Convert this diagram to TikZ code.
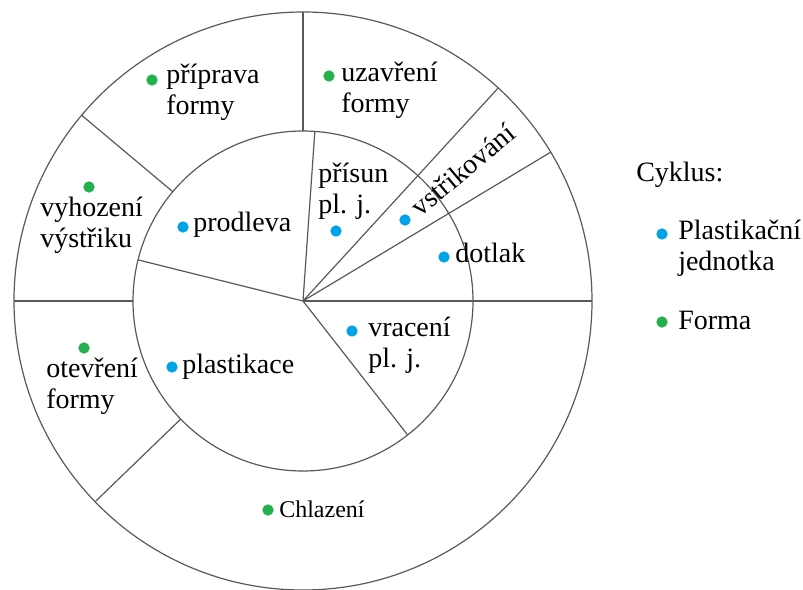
\documentclass[tikz,border=0pt]{standalone}
\usepackage{fontspec}
\setmainfont{LiberationSerif}[Extension=.ttf, UprightFont=*-Regular]
\usepackage{tikz}
\definecolor{puBlue}{RGB}{0,162,232}
\definecolor{formGreen}{RGB}{34,177,76}
\usetikzlibrary{positioning}

\begin{document}
\begin{tikzpicture}[x=0.75pt, y=0.75pt,
  sector/.style={draw=black!65, line width=0.9pt},
  lbl/.style={anchor=west, align=left, inner sep=0pt, font=\fontsize{21}{23.5}\selectfont},
  pudot/.style={circle, fill=puBlue, inner sep=0pt, minimum size=8.5pt},
  formdot/.style={circle, fill=formGreen, inner sep=0pt, minimum size=8.5pt}
]
  \useasboundingbox (-303,-288) rectangle (500,301);

  % rings
  \draw[sector] (0,0) circle (289);
  \draw[sector] (0,0) circle (170);
  % outer ring only
  \foreach \a in {90,140,180,224}
    \draw[sector] (\a:170) -- (\a:289);
  % inner ring only
  \foreach \a in {86,166,-52}
    \draw[sector] (0,0) -- (\a:170);
  % both rings
  \foreach \a in {0,31,47.5}
    \draw[sector] (0,0) -- (\a:289);

  % mold (outer ring)
  \node[formdot] (dprip) at (-151,221) {};
  \node[lbl] (prip) at (-137,209) {příprava\\formy};
  \node[formdot] (duzav) at (26,225) {};
  \node[lbl] (uzav) at (38,211) {uzavření\\formy};
  \node[formdot] (dvyh) at (-214,114) {};
  \node[lbl] (vyh) at (-263,76) {vyhození\\výstřiku};
  \node[formdot] (dotev) at (-219,-47) {};
  \node[lbl] (otev) at (-257,-85) {otevření\\formy};
  \node[formdot] (dchl) at (-35,-209) {};
  \node[lbl, font=\fontsize{18}{21}\selectfont] (chl) at (-24,-208) {Chlazení};

  % plasticizing unit (inner ring)
  \node[pudot] (dprod) at (-120,74) {};
  \node[lbl] (prod) at (-110,76) {prodleva};
  \node[pudot] (dpris) at (33,70) {};
  \node[lbl] (pris) at (15,110) {přísun\\pl. j.};
  \node[pudot] (dvst) at (102,81) {};
  \node[lbl, anchor=center, rotate=40] (vst) at (160,131) {vstřikování};
  \node[pudot] (ddot) at (141,44) {};
  \node[lbl] (dot) at (152,48) {dotlak};
  \node[pudot] (dvrac) at (49,-30) {};
  \node[lbl] (vrac) at (65,-44) {vracení\\pl. j.};
  \node[pudot] (dplast) at (-131,-66) {};
  \node[lbl] (plast) at (-121,-66) {plastikace};

  % legend
  \node[lbl] (cyk) at (333,126) {Cyklus:};
  \node[pudot] (dlpu) at (359,67) {};
  \node[lbl] (lpu) at (375,53) {Plastikační\\jednotka};
  \node[formdot] (dlform) at (359,-21) {};
  \node[lbl] (lform) at (375,-19) {Forma};
\end{tikzpicture}
\end{document}
